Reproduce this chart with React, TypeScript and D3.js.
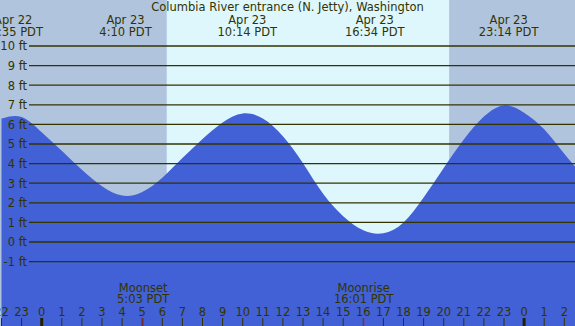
import React, { useEffect, useRef } from 'react';
import * as d3 from 'd3';

const hours = [-2, -1, 0, 1, 2, 3, 4, 5, 6, 7, 8, 9, 10, 11, 12, 13, 14, 15, 16, 17, 18, 19, 20, 21, 22, 23, 24, 25, 26, 27];
const heights = [6.3, 6.38, 5.6, 4.66, 3.68, 2.85, 2.37, 2.55, 3.28, 4.28, 5.26, 6.1, 6.56, 6.3, 5.4, 4.02, 2.46, 1.32, 0.6, 0.45, 1.0, 2.27, 3.78, 5.23, 6.4, 6.97, 6.6, 5.75, 4.5, 3.3];

// high / low tide labels
const extremeHours = [-1.42, 4.17, 10.23, 16.57, 23.23];
const extremeDates = ['Apr 22', 'Apr 23', 'Apr 23', 'Apr 23', 'Apr 23'];
const extremeTimes = ['22:35 PDT', '4:10 PDT', '10:14 PDT', '16:34 PDT', '23:14 PDT'];

const sunrise = 6.22;
const sunset = 20.27;

const moonHours = [5.05, 16.02];
const moonNames = ['Moonset', 'Moonrise'];
const moonTimes = ['5:03 PDT', '16:01 PDT'];

const feet = [-1, 0, 1, 2, 3, 4, 5, 6, 7, 8, 9, 10];
const tickHours = d3.range(-2, 27);

const title = 'Columbia River entrance (N. Jetty), Washington';

const W = 575, H = 326;
const ink = '#333300';
const font = '"DejaVu Sans", Verdana, sans-serif';
const fs = 11.5;

export default function App() {
    const ref = useRef<SVGSVGElement>(null);

    useEffect(() => {
        const svg = d3.select(ref.current);
        svg.selectAll('*').remove();

        const x = d3.scaleLinear().domain([0, 24]).range([41.7, 524.1]);
        const y = d3.scaleLinear().domain([0, 10]).range([242, 46]);

        // day / night background
        svg.append('rect').attr('x', 0).attr('y', 0).attr('width', W).attr('height', H).attr('fill', '#b0c4de');
        svg.append('rect')
            .attr('x', x(sunrise)).attr('y', 0)
            .attr('width', x(sunset) - x(sunrise)).attr('height', H)
            .attr('fill', '#ddf7fd');

        // tide
        const pts = hours.map((h, i) => [h, heights[i]] as [number, number]);
        const area = d3.area<[number, number]>()
            .x(d => x(d[0]))
            .y0(H)
            .y1(d => y(d[1]))
            .curve(d3.curveNatural);
        svg.append('path').datum(pts).attr('d', area).attr('fill', '#4261d6');

        // grid
        const grid = svg.append('g');
        grid.selectAll('line').data(feet).enter().append('line')
            .attr('x1', 29).attr('x2', W)
            .attr('y1', d => y(d)).attr('y2', d => y(d))
            .attr('stroke', ink).attr('stroke-width', 1.3);
        grid.selectAll('text').data(feet).enter().append('text')
            .attr('x', 27).attr('y', d => y(d) + 4.3)
            .attr('text-anchor', 'end')
            .attr('font-size', fs).attr('font-family', font).attr('fill', ink)
            .text(d => d + ' ft');

        // title
        svg.append('text')
            .attr('x', W / 2).attr('y', 10.8)
            .attr('text-anchor', 'middle')
            .attr('font-size', fs).attr('font-family', font).attr('fill', ink)
            .text(title);

        // extremes
        const ex = svg.append('g').attr('font-size', fs).attr('font-family', font).attr('fill', ink).attr('text-anchor', 'middle');
        extremeHours.forEach((h, i) => {
            ex.append('text').attr('x', x(h)).attr('y', 24).text(extremeDates[i]);
            ex.append('text').attr('x', x(h)).attr('y', 35.7).text(extremeTimes[i]);
        });

        // moon
        const mo = svg.append('g').attr('font-size', fs).attr('font-family', font).attr('fill', ink).attr('text-anchor', 'middle');
        moonHours.forEach((h, i) => {
            mo.append('text').attr('x', x(h)).attr('y', 291.7).text(moonNames[i]);
            mo.append('text').attr('x', x(h)).attr('y', 303.3).text(moonTimes[i]);
        });

        // hour axis
        const ax = svg.append('g');
        ax.selectAll('text').data(tickHours).enter().append('text')
            .attr('x', d => x(d)).attr('y', 315.7)
            .attr('text-anchor', 'middle')
            .attr('font-size', fs).attr('font-family', font).attr('fill', ink)
            .text(d => String(((d % 24) + 24) % 24));
        ax.selectAll('line').data(tickHours).enter().append('line')
            .attr('x1', d => x(d)).attr('x2', d => x(d))
            .attr('y1', 318).attr('y2', H)
            .attr('stroke', d => d % 24 === 0 ? '#222200' : ink)
            .attr('stroke-width', d => d % 24 === 0 ? 3 : 1);
        ax.selectAll('line.moon').data(moonHours).enter().append('line')
            .attr('class', 'moon')
            .attr('x1', d => x(d)).attr('x2', d => x(d))
            .attr('y1', 318).attr('y2', H)
            .attr('stroke', '#ff0000').attr('stroke-width', 1);
    }, []);

    return (
        <svg ref={ref} width={W} height={H} style={{ position: 'absolute', left: 0, top: 0, display: 'block' }} />
    );
}
